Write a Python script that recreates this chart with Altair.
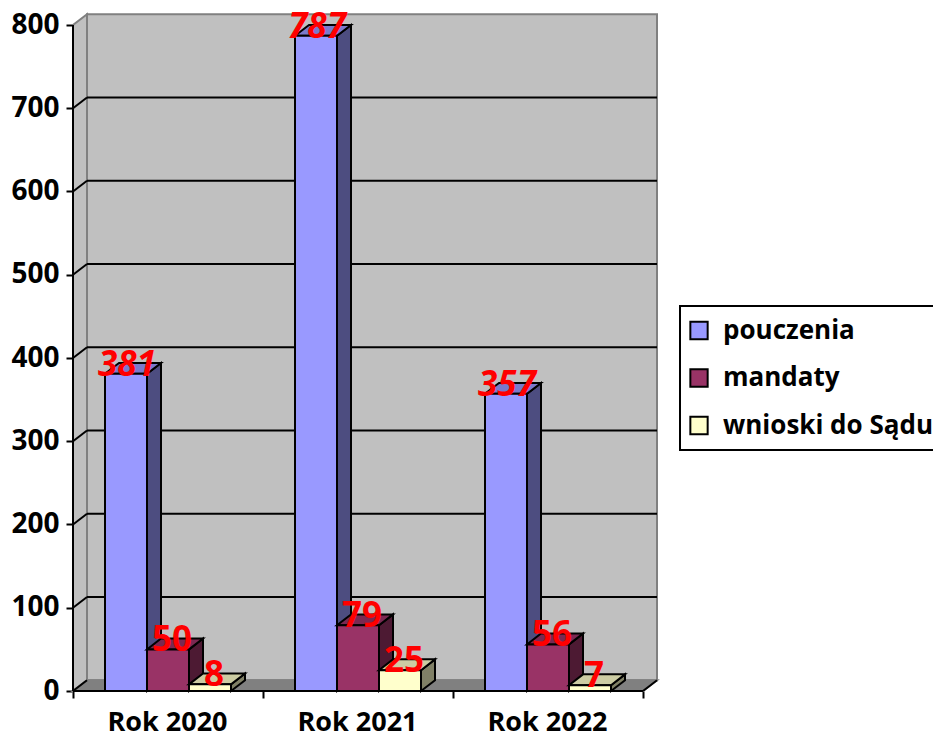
import altair as alt
import pandas as pd

categories = ["Rok 2020", "Rok 2021", "Rok 2022"]
series = ["pouczenia", "mandaty", "wnioski do Sądu"]
pouczenia = [381, 787, 357]
mandaty = [50, 79, 56]
wnioski = [8, 25, 7]
y_ticks = [0, 100, 200, 300, 400, 500, 600, 700, 800]
front_colors = ["#9999FF", "#993366", "#FFFFCC"]
side_colors = ["#4D4D80", "#4D1A33", "#808066"]
top_colors = ["#7A7ACC", "#7A2952", "#CCCCA3"]

FONT = "Open Sans"
W, H = 584, 676
PX_PER_CAT = 190
PX_PER_UNIT = 0.8325
DX = 14 / PX_PER_CAT
DY = 13.0
BAR = 42 / PX_PER_CAT
GAP = 32 / PX_PER_CAT
N = len(categories)

xs = alt.Scale(domain=[0, W / PX_PER_CAT], range=[0, W], nice=False, zero=False)
ys = alt.Scale(domain=[0, H / PX_PER_UNIT], range=[H, 0], nice=False, zero=False)

label_expr = "[" + ",".join(f"'{c}'" for c in categories) + ",''][datum.value]"
x_axis = alt.Axis(
    values=list(range(N + 1)), domain=False, grid=False, tickSize=7, tickWidth=2,
    tickColor="black", labelExpr=label_expr, labelOffset=PX_PER_CAT / 2 - 1,
    labelFont=FONT, labelFontWeight="bold", labelFontSize=27, labelColor="black",
    labelPadding=11, labelFlush=False, labelOverlap=False, labelBound=False, title=None)
y_axis = alt.Axis(
    values=y_ticks, domain=False, grid=False, tickSize=7, tickWidth=2,
    tickColor="black", labelFont=FONT, labelFontWeight="bold", labelFontSize=28,
    labelColor="black", labelPadding=7, labelOverlap=False, labelBound=False, title=None)


def X(f="x"):
    return alt.X(f"{f}:Q", scale=xs, axis=x_axis)


def Y(f="y"):
    return alt.Y(f"{f}:Q", scale=ys, axis=y_axis)


def box_area(rows, **kw):
    return alt.Chart(pd.DataFrame(rows)).mark_area(orient="vertical", **kw).encode(
        x=X(), y=Y(), y2=alt.Y2("y2:Q"), detail="id:N"
    )


def parallelogram(x0, x1, v, gid):
    # horizontal face: front edge x0..x1 at v, back edge shifted by depth
    return [
        dict(id=gid, x=x0, y=v, y2=v),
        dict(id=gid, x=x0 + DX, y=v, y2=v + DY),
        dict(id=gid, x=x1, y=v, y2=v + DY),
        dict(id=gid, x=x1 + DX, y=v + DY, y2=v + DY),
    ]


def side(x, v0, v1, gid):
    return [
        dict(id=gid, x=x, y=v0, y2=v1),
        dict(id=gid, x=x + DX, y=v0 + DY, y2=v1 + DY),
    ]


def lines(rows, color, width=2):
    return alt.Chart(pd.DataFrame(rows)).mark_line(color=color, strokeWidth=width).encode(
        x=X(), y=Y(), detail="id:N"
    )


layers = []
top_v = y_ticks[-1]
# Walls and floor
layers.append(box_area(side(0, 0, top_v, "left"), fill="#C0C0C0", stroke="#808080", strokeWidth=2))
layers.append(box_area([
    dict(id="back", x=DX, y=DY, y2=top_v + DY),
    dict(id="back", x=N + DX, y=DY, y2=top_v + DY),
], fill="#C0C0C0", stroke="#808080", strokeWidth=2))
layers.append(box_area(parallelogram(0, N, 0, "floor"), fill="#808080", stroke="#808080", strokeWidth=2))

# Gridlines on the back wall and their slants on the side wall
grid_rows = []
for v in y_ticks[1:-1]:
    grid_rows += [dict(id=f"g{v}", x=DX, y=v + DY), dict(id=f"g{v}", x=N + DX, y=v + DY)]
    grid_rows += [dict(id=f"s{v}", x=0, y=v), dict(id=f"s{v}", x=DX, y=v + DY)]
layers.append(lines(grid_rows, "black"))
# Front axis lines
layers.append(lines([
    dict(id="a", x=0, y=0), dict(id="a", x=0, y=top_v),
    dict(id="b", x=0, y=0), dict(id="b", x=N, y=0),
    dict(id="c", x=N, y=0), dict(id="c", x=N + DX, y=DY),
    dict(id="d", x=0, y=0), dict(id="d", x=DX, y=DY),
], "black"))

values = [pouczenia, mandaty, wnioski]
color_scale = alt.Scale(domain=series, range=front_colors)
legend = alt.Legend(
    title=None, orient="none", legendX=607, legendY=291, symbolType="square", symbolSize=300,
    symbolStrokeColor="black", symbolStrokeWidth=2, symbolOpacity=1,
    labelFont=FONT, labelFontWeight="bold", labelFontSize=26, labelColor="black",
    labelLimit=400, clipHeight=37, rowPadding=10.5, padding=6, labelOffset=11,
    fillColor="white", strokeColor="black",
)

for s, name in enumerate(series):
    fronts = []
    for c in range(N):
        x0 = c + GAP + s * BAR
        x1 = x0 + BAR
        v = values[s][c]
        fronts.append(dict(series=name, x=x0, x2=x1, y=v, y0=0))
        layers.append(box_area(side(x1, 0, v, f"side{s}{c}"), fill=side_colors[s], stroke="black", strokeWidth=2))
        layers.append(box_area(parallelogram(x0, x1, v, f"top{s}{c}"), fill=top_colors[s], stroke="black", strokeWidth=2))
    layers.append(
        alt.Chart(pd.DataFrame(fronts)).mark_bar(stroke="black", strokeWidth=2, opacity=1).encode(
            x=X(), x2=alt.X2("x2:Q"), y=Y(), y2=alt.Y2("y0:Q"),
            fill=alt.Fill("series:N", scale=color_scale, legend=legend),
        )
    )

# Data labels, on top of everything
for s, name in enumerate(series):
    rows = []
    for c in range(N):
        x0 = c + GAP + s * BAR
        rows.append(dict(cx=x0 + BAR / 2, y=values[s][c], label=str(values[s][c])))
    layers.append(
        alt.Chart(pd.DataFrame(rows)).mark_text(
            color="#FF0000", font=FONT, fontWeight="bold", fontSize=35,
            fontStyle="italic" if s == 0 else "normal",
            align="center", baseline="alphabetic", dx=1 if s == 0 else 4, dy=2,
        ).encode(x=X("cx"), y=Y(), text="label:N")
    )

chart = alt.layer(*layers).properties(
    width=W, height=H,
    padding={"left": 65, "top": 7, "right": 276, "bottom": 41},
    autosize=alt.AutoSizeParams(type="none"),
).configure_view(stroke=None).configure_legend(strokeWidth=2)

chart.save("out.html", embed_options={"renderer": "svg", "actions": False})
